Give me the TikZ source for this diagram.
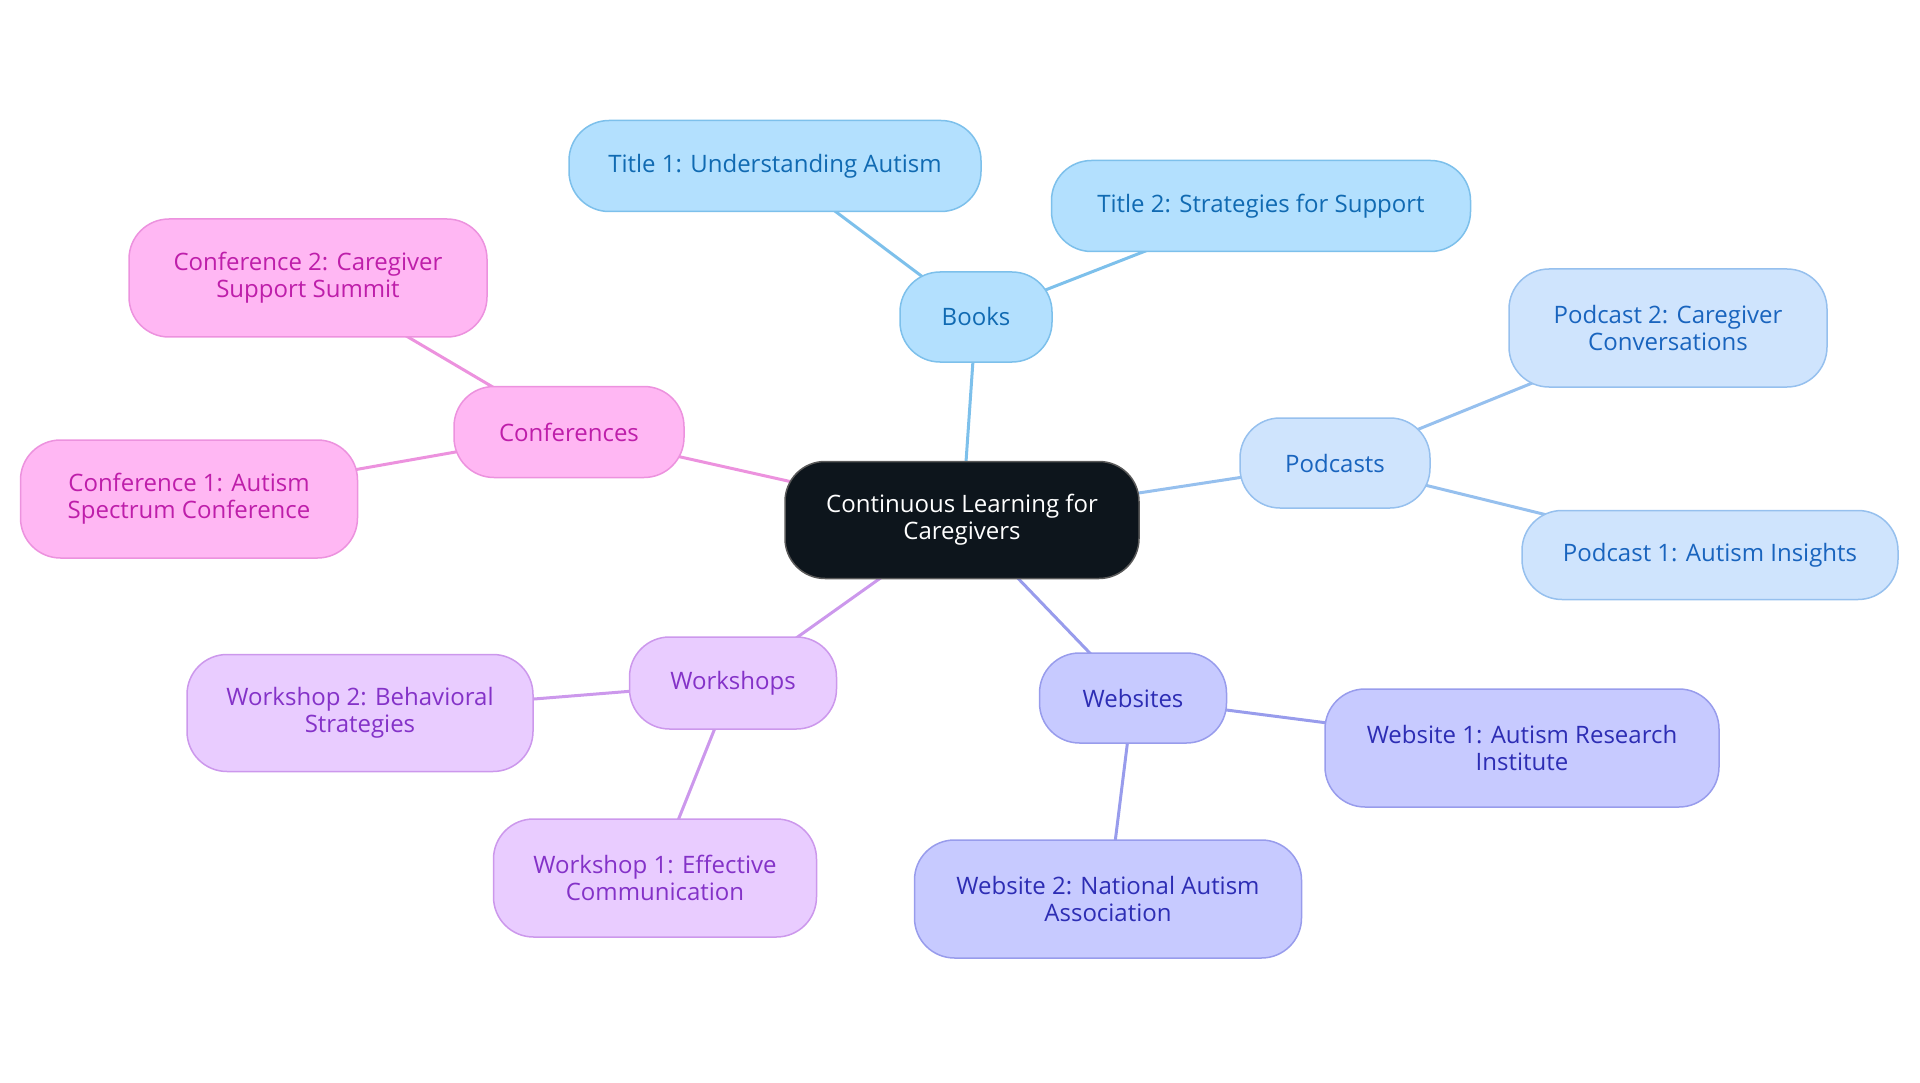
\documentclass[tikz,border=0pt]{standalone}
\usepackage{fontspec}
\setmainfont{Open Sans}
\usetikzlibrary{backgrounds}
\definecolor{bkfill}{RGB}{179,224,254}
\definecolor{bkdraw}{RGB}{125,192,235}
\definecolor{bktext}{RGB}{16,106,178}
\definecolor{pcfill}{RGB}{207,228,253}
\definecolor{pcdraw}{RGB}{150,192,238}
\definecolor{pctext}{RGB}{25,100,190}
\definecolor{wbfill}{RGB}{199,202,255}
\definecolor{wbdraw}{RGB}{152,156,236}
\definecolor{wbtext}{RGB}{45,45,180}
\definecolor{wsfill}{RGB}{233,204,255}
\definecolor{wsdraw}{RGB}{204,152,236}
\definecolor{wstext}{RGB}{132,50,200}
\definecolor{cffill}{RGB}{255,183,243}
\definecolor{cfdraw}{RGB}{236,146,222}
\definecolor{cftext}{RGB}{190,30,170}
\definecolor{ctfill}{RGB}{13,21,28}
\tikzset{
  base/.style={rounded corners=40pt, line width=1.5pt, align=center, inner sep=0pt,
    font=\fontsize{24}{27}\selectfont},
  bk/.style={base, fill=bkfill, draw=bkdraw, text=bktext},
  pc/.style={base, fill=pcfill, draw=pcdraw, text=pctext},
  wb/.style={base, fill=wbfill, draw=wbdraw, text=wbtext},
  ws/.style={base, fill=wsfill, draw=wsdraw, text=wstext},
  cf/.style={base, fill=cffill, draw=cfdraw, text=cftext},
  ct/.style={base, fill=ctfill, draw=gray!70!black, text=white},
  bkline/.style={draw=bkdraw, line width=3pt},
  pcline/.style={draw=pcdraw, line width=3pt},
  wbline/.style={draw=wbdraw, line width=3pt},
  wsline/.style={draw=wsdraw, line width=3pt},
  cfline/.style={draw=cfdraw, line width=3pt},
}
\begin{document}
\begin{tikzpicture}[x=1pt,y=-1pt]
\useasboundingbox (0,0) rectangle (1920,1083);
\node[ct, minimum width=354pt, minimum height=117pt] (c) at (962,520) {Continuous Learning for\\Caregivers};
\node[bk, minimum width=152pt, minimum height=90pt] (bk) at (976,317) {Books};
\node[bk, minimum width=412pt, minimum height=91pt] (t1) at (775,166) {Title 1: Understanding Autism};
\node[bk, minimum width=419pt, minimum height=91pt] (t2) at (1261,206) {Title 2: Strategies for Support};
\node[pc, minimum width=190pt, minimum height=90pt] (pc) at (1335,463) {Podcasts};
\node[pc, minimum width=318pt, minimum height=118pt] (p2) at (1668,328) {Podcast 2: Caregiver\\Conversations};
\node[pc, minimum width=376pt, minimum height=89pt] (p1) at (1710,555) {Podcast 1: Autism Insights};
\node[wb, minimum width=187pt, minimum height=90pt] (wb) at (1133,698) {Websites};
\node[wb, minimum width=394pt, minimum height=118pt] (w1) at (1522,748) {Website 1: Autism Research\\Institute};
\node[wb, minimum width=387pt, minimum height=118pt] (w2) at (1108,899) {Website 2: National Autism\\Association};
\node[ws, minimum width=207pt, minimum height=92pt] (ws) at (733,683) {Workshops};
\node[ws, minimum width=346pt, minimum height=117pt] (k2) at (360,713) {Workshop 2: Behavioral\\Strategies};
\node[ws, minimum width=323pt, minimum height=118pt] (k1) at (655,878) {Workshop 1: Effective\\Communication};
\node[cf, minimum width=230pt, minimum height=91pt] (cf) at (569,432) {Conferences};
\node[cf, minimum width=358pt, minimum height=118pt] (f2) at (308,278) {Conference 2: Caregiver\\Support Summit};
\node[cf, minimum width=337pt, minimum height=118pt] (f1) at (189,499) {Conference 1: Autism\\Spectrum Conference};
\begin{scope}[on background layer]
\draw[bkline] (c.center) -- (bk.center);
\draw[bkline] (bk.center) -- (t1.center);
\draw[bkline] (bk.center) -- (t2.center);
\draw[pcline] (c.center) -- (pc.center);
\draw[pcline] (pc.center) -- (p2.center);
\draw[pcline] (pc.center) -- (p1.center);
\draw[wbline] (c.center) -- (wb.center);
\draw[wbline] (wb.center) -- (w1.center);
\draw[wbline] (wb.center) -- (w2.center);
\draw[wsline] (c.center) -- (ws.center);
\draw[wsline] (ws.center) -- (k2.center);
\draw[wsline] (ws.center) -- (k1.center);
\draw[cfline] (c.center) -- (cf.center);
\draw[cfline] (cf.center) -- (f2.center);
\draw[cfline] (cf.center) -- (f1.center);
\end{scope}
\end{tikzpicture}
\end{document}
